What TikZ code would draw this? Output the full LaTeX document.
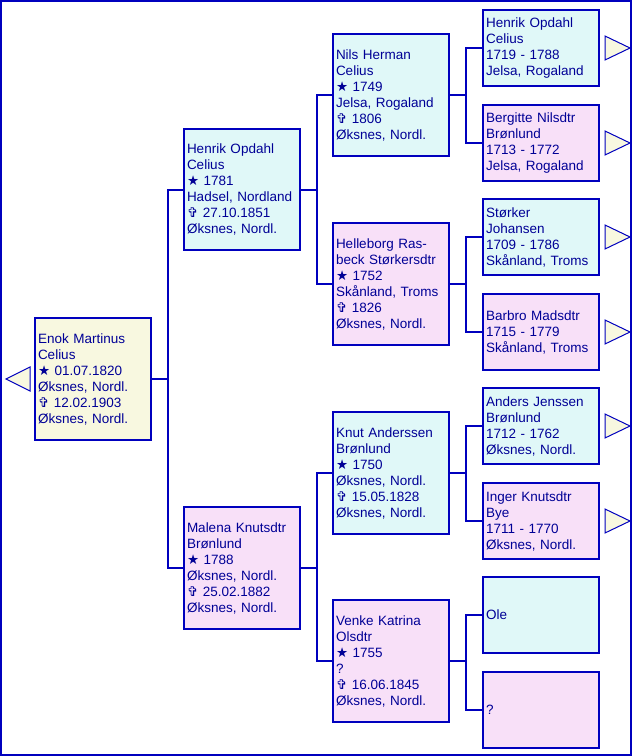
\documentclass[tikz,border=0pt]{standalone}
\usepackage{fontspec}
\setmainfont{Liberation Sans}
\newfontfamily\symfont{DejaVu Sans}
\newcommand\bsym{{\symfont\fontsize{13.5}{10}\selectfont ★}}
\newcommand\dsym{{\symfont\fontsize{13.5}{10}\selectfont ✞}}
\definecolor{bdr}{RGB}{0,0,190}
\definecolor{txt}{RGB}{0,0,150}
\definecolor{fbeige}{RGB}{248,248,224}
\definecolor{fcyan}{RGB}{224,248,248}
\definecolor{fpink}{RGB}{248,224,248}
\begin{document}
\begin{tikzpicture}[x=1pt,y=-1pt,
  box/.style={draw=bdr, line width=2pt, text=txt, anchor=north west,
    minimum width=116pt, text width=110pt, inner xsep=3pt, inner ysep=0pt,
    align=left, font=\fontsize{13.5}{16}\selectfont},
  big/.style={box, minimum height=122pt},
  small/.style={box, minimum height=76pt},
  male/.style={fill=fcyan},
  female/.style={fill=fpink},
  conn/.style={draw=bdr, line width=2pt},
  tri/.style={draw=bdr, line width=1pt, fill=fbeige, line join=miter}]
\useasboundingbox (0,0) rectangle (632,756);
\draw[bdr, line width=2pt] (1,1) rectangle (631,755);

% root
\node[big, fill=fbeige] (root) at (34,317) {Enok Martinus\\Celius\\\bsym{} 01.07.1820\\Øksnes, Nordl.\\\dsym{} 12.02.1903\\Øksnes, Nordl.};

% generation 1
\node[big, male, minimum height=121pt] (f) at (183,128) {Henrik Opdahl\\Celius\\\bsym{} 1781\\Hadsel, Nordland\\\dsym{} 27.10.1851\\Øksnes, Nordl.};
\node[big, female] (m) at (183,506) {Malena Knutsdtr\\Brønlund\\\bsym{} 1788\\Øksnes, Nordl.\\\dsym{} 25.02.1882\\Øksnes, Nordl.};

% generation 2
\node[big, male] (ff) at (332,33) {Nils Herman\\Celius\\\bsym{} 1749\\Jelsa, Rogaland\\\dsym{} 1806\\Øksnes, Nordl.};
\node[big, female] (fm) at (332,222) {Helleborg Ras-\\beck Størkersdtr\\\bsym{} 1752\\Skånland, Troms\\\dsym{} 1826\\Øksnes, Nordl.};
\node[big, male] (mf) at (332,411) {Knut Anderssen\\Brønlund\\\bsym{} 1750\\Øksnes, Nordl.\\\dsym{} 15.05.1828\\Øksnes, Nordl.};
\node[big, female] (mm) at (332,599) {Venke Katrina\\Olsdtr\\\bsym{} 1755\\?\\\dsym{} 16.06.1845\\Øksnes, Nordl.};

% generation 3
\node[small, male] (fff) at (482,9) {Henrik Opdahl\\Celius\\1719 - 1788\\Jelsa, Rogaland};
\node[small, female] (ffm) at (482,104) {Bergitte Nilsdtr\\Brønlund\\1713 - 1772\\Jelsa, Rogaland};
\node[small, male] (fmf) at (482,198) {Størker\\Johansen\\1709 - 1786\\Skånland, Troms};
\node[small, female] (fmm) at (482,293) {Barbro Madsdtr\\1715 - 1779\\Skånland, Troms};
\node[small, male] (mff) at (482,387) {Anders Jenssen\\Brønlund\\1712 - 1762\\Øksnes, Nordl.};
\node[small, female] (mfm) at (482,482) {Inger Knutsdtr\\Bye\\1711 - 1770\\Øksnes, Nordl.};
\node[small, male] (mmf) at (482,576) {Ole};
\node[small, female] (mmm) at (482,671) {?};

% connectors
\foreach \p/\a/\b in {root/f/m, f/ff/fm, m/mf/mm, ff/fff/ffm, fm/fmf/fmm, mf/mff/mfm, mm/mmf/mmm}{
  \draw[conn] (\p.east) -- ++(16,0) coordinate (bus-\p);
  \draw[conn] (bus-\p) |- (\a.west);
  \draw[conn] (bus-\p) |- (\b.west);
}

% triangles
\draw[tri] ([xshift=-4pt]root.west) -- ++(0,-12) -- ++(-24,12) -- ++(24,12) -- cycle;
\foreach \n in {fff,ffm,fmf,fmm,mff,mfm}{
  \draw[tri] ([xshift=5pt]\n.east) -- ++(0,-12) -- ++(25,12) -- ++(-25,12) -- cycle;
}
\end{tikzpicture}
\end{document}
